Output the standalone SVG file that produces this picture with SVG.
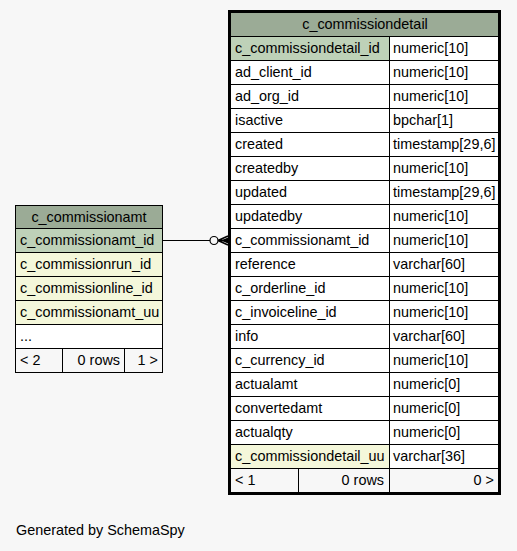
<svg xmlns="http://www.w3.org/2000/svg" width="517" height="551" viewBox="0 0 517 551">
<style>
text{font-family:"Liberation Sans",Arial,sans-serif;font-size:14.4px;fill:#000}
.hd{fill:#9bab96}
.pk{fill:#bed1b8}
.ix{fill:#f4f7da}
.pl{fill:#ffffff}
.ft{fill:#f7f7f7}
.ln{stroke:#000;stroke-width:1;fill:none}
.c{text-anchor:middle}
.r{text-anchor:end}
</style>
<rect x="0" y="0" width="517" height="551" fill="#f7f7f7"/>

<g id="c_commissionamt">
<rect class="hd" x="15.5" y="205.5" width="147" height="23"/>
<rect class="pk" x="15.5" y="228.5" width="147" height="24"/>
<rect class="ix" x="15.5" y="252.5" width="147" height="72"/>
<rect class="pl" x="15.5" y="324.5" width="147" height="24"/>
<rect class="ft" x="15.5" y="348.5" width="147" height="24"/>
<rect class="ln" x="15.5" y="205.5" width="147" height="167"/>
<path class="ln" d="M15.5 228.5H162.5M15.5 252.5H162.5M15.5 276.5H162.5M15.5 300.5H162.5M15.5 324.5H162.5M15.5 348.5H162.5M62.5 348.5V372.5M124.5 348.5V372.5"/>
<text class="c" x="89" y="222">c_commissionamt</text>
<text x="20" y="245">c_commissionamt_id</text>
<text x="20" y="269">c_commissionrun_id</text>
<text x="20" y="293">c_commissionline_id</text>
<text x="20" y="317">c_commissionamt_uu</text>
<text x="20" y="341">...</text>
<text x="20" y="365">&lt; 2</text>
<text class="r" x="120" y="365">0 rows</text>
<text class="r" x="158" y="365">1 &gt;</text>
</g>

<g id="c_commissiondetail">
<rect class="hd" x="231" y="13" width="268" height="23.5"/>
<rect class="pl" x="231" y="36.5" width="268" height="432"/>
<rect class="pk" x="231" y="36.5" width="158" height="24"/>
<rect class="ix" x="231" y="444.5" width="158" height="24"/>
<rect class="ft" x="231" y="468.5" width="268" height="24"/>
<path class="ln" d="M231 36.5H499M231 60.5H499M231 84.5H499M231 108.5H499M231 132.5H499M231 156.5H499M231 180.5H499M231 204.5H499M231 228.5H499M231 252.5H499M231 276.5H499M231 300.5H499M231 324.5H499M231 348.5H499M231 372.5H499M231 396.5H499M231 420.5H499M231 444.5H499M231 468.5H499M389.5 36.5V492.5M298.5 468.5V492.5"/>
<rect x="229.5" y="11.5" width="270" height="482" fill="none" stroke="#000" stroke-width="3"/>
<text class="c" x="365" y="29">c_commissiondetail</text>
<text x="235" y="53">c_commissiondetail_id</text><text x="393" y="53">numeric[10]</text>
<text x="235" y="77">ad_client_id</text><text x="393" y="77">numeric[10]</text>
<text x="235" y="101">ad_org_id</text><text x="393" y="101">numeric[10]</text>
<text x="235" y="125">isactive</text><text x="393" y="125">bpchar[1]</text>
<text x="235" y="149">created</text><text x="393" y="149">timestamp[29,6]</text>
<text x="235" y="173">createdby</text><text x="393" y="173">numeric[10]</text>
<text x="235" y="197">updated</text><text x="393" y="197">timestamp[29,6]</text>
<text x="235" y="221">updatedby</text><text x="393" y="221">numeric[10]</text>
<text x="235" y="245">c_commissionamt_id</text><text x="393" y="245">numeric[10]</text>
<text x="235" y="269">reference</text><text x="393" y="269">varchar[60]</text>
<text x="235" y="293">c_orderline_id</text><text x="393" y="293">numeric[10]</text>
<text x="235" y="317">c_invoiceline_id</text><text x="393" y="317">numeric[10]</text>
<text x="235" y="341">info</text><text x="393" y="341">varchar[60]</text>
<text x="235" y="365">c_currency_id</text><text x="393" y="365">numeric[10]</text>
<text x="235" y="389">actualamt</text><text x="393" y="389">numeric[0]</text>
<text x="235" y="413">convertedamt</text><text x="393" y="413">numeric[0]</text>
<text x="235" y="437">actualqty</text><text x="393" y="437">numeric[0]</text>
<text x="235" y="461">c_commissiondetail_uu</text><text x="393" y="461">varchar[36]</text>
<text x="235" y="485">&lt; 1</text>
<text class="r" x="384" y="485">0 rows</text>
<text class="r" x="494" y="485">0 &gt;</text>
</g>

<g id="connectors">
<path class="ln" d="M163 240.5H210"/>
<circle cx="214" cy="240.5" r="4" fill="none" stroke="#000" stroke-width="1.2"/>
<path d="M218 240.5L228 236M218 240.5L228 240.5M218 240.5L228 245" stroke="#000" stroke-width="1.5" fill="none"/>
<path d="M221 240.5L228 237.5V243.5Z" fill="#000"/>
</g>

<text x="16" y="535">Generated by SchemaSpy</text>
</svg>
